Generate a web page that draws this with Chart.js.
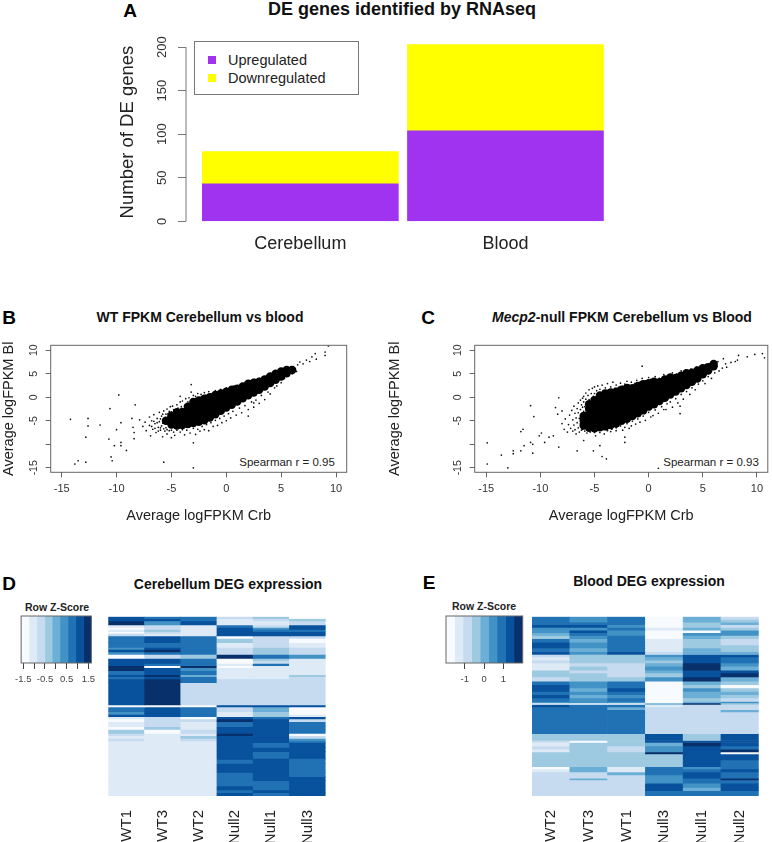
<!DOCTYPE html>
<html>
<head>
<meta charset="utf-8">
<script src="https://cdn.jsdelivr.net/npm/chart.js@4"></script>
<style>
body { margin: 0; background: #fff; width: 772px; height: 842px; overflow: hidden; position: relative; font-family: "Liberation Sans", Arial, sans-serif; color: #111; }
canvas { position: absolute; }
.t { position: absolute; white-space: nowrap; transform: translate(-50%, -50%); }
.b { font-weight: bold; font-size: 14px; }
.p { font-weight: bold; font-size: 19px; color: #000; }
.k { font-weight: bold; font-size: 10.5px; color: #222; }
.s { font-size: 11.5px; color: #222; }
#legend { position: absolute; left: 194px; top: 41px; width: 165px; height: 54px; border: 1px solid #777; box-sizing: border-box; background: #fff; z-index: 2; font-size: 14.5px; color: #222; }
#legend div { position: absolute; left: 33px; white-space: nowrap; }
#legend i { position: absolute; left: -20px; top: 4px; width: 8px; height: 8px; }
</style>
</head>
<body>
<div class="t p" style="left:130px;top:11px">A</div>
<div class="t" style="left:402px;top:9px;font-weight:bold;font-size:18px">DE genes identified by RNAseq</div>
<div id="legend"></div>
<div class="t p" style="left:9px;top:318px">B</div>
<div class="t b" style="left:200px;top:317px">WT FPKM Cerebellum vs blood</div>
<div class="t p" style="left:428px;top:318px">C</div>
<div class="t b" style="left:622px;top:317px"><i>Mecp2</i>-null FPKM Cerebellum vs Blood</div>
<div class="t p" style="left:9px;top:584px">D</div>
<div class="t b" style="left:228px;top:584px">Cerebellum DEG expression</div>
<div class="t p" style="left:429px;top:583px">E</div>
<div class="t b" style="left:649px;top:581px">Blood DEG expression</div>
<div class="t k" style="left:57px;top:607px">Row Z-Score</div>
<div class="t k" style="left:484px;top:606px">Row Z-Score</div>
<div class="t s" style="left:287px;top:462px">Spearman r = 0.95</div>
<div class="t s" style="left:711px;top:462px">Spearman r = 0.93</div>

<canvas id="barA" style="left:100px;top:30px"></canvas>
<canvas id="scatB" style="left:0;top:335px"></canvas>
<canvas id="scatC" style="left:386px;top:335px"></canvas>
<canvas id="keyD" style="left:10px;top:610px"></canvas>
<canvas id="heatD" style="left:100px;top:610px"></canvas>
<canvas id="keyE" style="left:436px;top:610px"></canvas>
<canvas id="heatE" style="left:524px;top:610px"></canvas>

<script>
// panel A
const tissues = ["Cerebellum", "Blood"];
const upregulated = [43, 104];
const downregulated = [37, 99];
const countTicks = [0, 50, 100, 150, 200];

// panels B, C: axis ticks
const logTicks = [-15, -10, -5, 0, 5, 10];

// panel B, WT: the solid middle of the cloud
const wtCore = [
  [-5.5,-5],[-5,-5.8],[-5,-4.8],[-5,-3.9],[-4.5,-6],[-4.5,-5],[-4.5,-4],[-4.5,-3.2],[-4,-5.9],[-4,-5],[-4,-4],[-4,-3.1],
  [-3.5,-5.7],[-3.5,-4.8],[-3.5,-3.8],[-3.5,-2.9],[-3.5,-2],[-3,-5.5],[-3,-4.6],[-3,-3.6],[-3,-2.7],[-3,-1.7],[-3,-1],
  [-2.5,-5.2],[-2.5,-4.3],[-2.5,-3.3],[-2.5,-2.4],[-2.5,-1.4],[-2.5,-0.7],[-2,-4.9],[-2,-4],[-2,-3],[-2,-2],[-2,-1.1],[-2,-0.3],
  [-1.5,-4.3],[-1.5,-3.4],[-1.5,-2.5],[-1.5,-1.6],[-1.5,-0.7],[-1.5,0],[-1,-3.6],[-1,-2.7],[-1,-1.8],[-1,-0.9],[-1,0],[-1,0.5],
  [-0.5,-2.9],[-0.5,-2],[-0.5,-1.1],[-0.5,-0.2],[-0.5,0.8],[0,-2.2],[0,-1.3],[0,-0.4],[0,0.5],[0,1.2],[0.5,-1.6],[0.5,-0.7],[0.5,0.2],[0.5,1.1],[0.5,1.6],
  [1,-0.9],[1,0],[1,0.9],[1,1.8],[1.5,-0.2],[1.5,0.7],[1.5,1.6],[1.5,2.3],[2,0.4],[2,1.3],[2,2.2],[2,2.9],[2.5,1],[2.5,1.9],[2.5,2.8],[2.5,3.1],
  [3,1.6],[3,2.5],[3,3.3],[3.5,2.3],[3.5,3.1],[3.5,3.8],[4,3],[4,3.7],[4,4.4],[4.5,3.7],[4.5,4.4],[4.5,5],[5,4.4],[5,5],[5,5.5],[5.5,5.1],[5.5,5.8],[6,5.8]
];
// panel B, WT: single genes around the middle and the far outliers
const wtSpread = [
  [-7.9,-4.8],[-7.6,-6.2],[-7.4,-5.3],[-7.3,-7.1],[-7,-4.2],[-7,-6],[-6.9,-8.2],[-6.8,-5],[-6.7,-6.8],[-6.6,-3.7],[-6.5,-5.6],[-6.4,-7.5],[-6.3,-4.5],[-6.2,-6.4],[-6.1,-3.2],[-6.1,-5.2],[-6,-7],[-5.9,-4],[-5.9,-6.1],[-5.8,-8.4],[-5.7,-2.9],[-5.7,-5],[-5.6,-7.2],[-5.5,-3.6],[-5.5,-6.5],[-5.4,-2.5],[-5.4,-7.8],[-5.3,-4.1],[-5.2,-3],[-5.2,-7.1],[-5.1,-2],[-5,-8.6],[-5,-3.1],[-5,-7],[-4.9,-1.9],[-4.8,-2.6],[-4.8,-7.4],[-4.7,-8.1],
  [-6.8,-6.2],[-6.6,-5.1],[-6.5,-6.6],[-6.3,-5.4],[-6.2,-7.2],[-6,-4.6],[-6,-6.5],[-5.8,-3.6],[-5.8,-5.5],[-5.7,-6.7],[-5.6,-4.4],[-5.5,-5.6],[-5.4,-6.9],[-5.3,-3.5],[-5.2,-4.9],[-5.1,-6.4],
  [-4.5,-1.6],[-4.4,-2.3],[-4.2,-1],[-4.1,-2],[-4,-0.8],[-3.8,-1.7],[-3.7,-0.3],[-3.5,-1],[-3.4,-0.1],[-3.2,1.1],[-3.1,-0.4],[-3,0.4],[-2.8,0.2],[-2.6,0.8],[-2.4,-0.1],[-2.3,0.6],[-2,1],[-1.9,0.4],[-1.6,1.2],[-1.4,0.7],[-1,1.4],[-0.8,1],[-0.5,1.7],[-0.3,1.3],[0,2],[0.3,1.9],[0.7,2.4],[1,2.5],[1.4,2.9],[1.8,3.2],[2.2,3.4],[2.6,3.8],[3,4],[3.3,4.3],[3.7,4.6],[4.2,5],[4.6,5.6],[5,6],[5.4,6.3],[5.9,6.5],
  [-4.5,-7],[-4.2,-7.4],[-4,-6.9],[-3.8,-8],[-3.6,-7],[-3.3,-7.6],[-3,-6.6],[-2.8,-7.9],[-2.6,-6.8],[-2.4,-7.2],[-2.2,-6.2],[-2,-6.9],[-1.8,-5.8],[-1.6,-7.1],[-1.4,-5.4],[-1.2,-6.2],[-1,-4.9],[-0.8,-6],[-0.6,-4.5],[-0.4,-5.4],[-0.2,-4],[0,-5],[0.2,-3.5],[0.4,-4.4],[0.6,-3],[0.9,-3.8],[1.2,-2.3],[1.4,-3.3],[1.7,-1.8],[2,-2.6],[2.3,-1],[2.5,-2.1],[2.7,-0.6],[3,-1.3],[3.2,0.4],[3.5,-0.5],[3.8,1.1],[4,0.7],[4.4,2],[4.6,2.4],[5,3.1],[5.3,4],[5.6,4.6],[6,5],[6.4,5.5],
  [-14.2,-4.7],[-12.6,-4.5],[-12.6,-6.1],[-11.5,-5.9],[-12.8,-8.5],[-13.8,-14.2],[-13.5,-13.5],[-12.8,-13.8],[-10.5,-12.7],[-10.4,-13.5],[-9.8,0.5],[-10.6,-2.4],[-9.6,-5.4],[-10,-6.9],[-8.3,-1.6],[-8.6,-4.5],[-8.5,-6.4],[-8.4,-7.5],[-8.4,-8.8],[-9.6,-9.6],[-9.6,-10.3],[-10.2,-10.3],[-9.1,-11.3],[-10.7,-8.9],[-5.7,-13.8],[-3,-15],[-3,-9.7],[-3.2,2.7],[-4.2,0.2],[2.5,-1.2],[2,-4],
  [6.1,6.5],[6.7,7.5],[7.3,7.9],[8.1,9.3],[9,9.6],[9.3,10.9],[8.2,8.1],[9,8.9],[7.8,8.6],[6.5,6.9],[7,7.1],[7.6,7.6]
];

// panel C, Mecp2-null: the solid middle of the cloud
const nullCore = [
  [-6,-6],[-6,-5],[-6,-4],[-5.5,-6.5],[-5.5,-5.5],[-5.5,-4.5],[-5.5,-3.5],[-5.5,-2.5],[-5.5,-1.5],[-5,-6.6],[-5,-5.6],[-5,-4.6],[-5,-3.6],[-5,-2.6],[-5,-1.6],[-5,-0.6],
  [-4.5,-6.4],[-4.5,-5.4],[-4.5,-4.4],[-4.5,-3.4],[-4.5,-2.4],[-4.5,-1.4],[-4.5,-0.4],[-4.5,0.4],[-4,-6.2],[-4,-5.2],[-4,-4.2],[-4,-3.2],[-4,-2.2],[-4,-1.2],[-4,-0.2],[-4,0.8],
  [-3.5,-5.9],[-3.5,-4.9],[-3.5,-3.9],[-3.5,-2.9],[-3.5,-1.9],[-3.5,-0.9],[-3.5,0.1],[-3.5,1],[-3,-5.6],[-3,-4.6],[-3,-3.6],[-3,-2.6],[-3,-1.6],[-3,-0.6],[-3,0.4],[-3,1.2],
  [-2.5,-5],[-2.5,-4],[-2.5,-3],[-2.5,-2],[-2.5,-1],[-2.5,0],[-2.5,1],[-2.5,1.6],[-2,-4.6],[-2,-3.6],[-2,-2.6],[-2,-1.6],[-2,-0.6],[-2,0.4],[-2,1.4],[-2,2],
  [-1.5,-4],[-1.5,-3],[-1.5,-2],[-1.5,-1],[-1.5,0],[-1.5,1],[-1.5,1.9],[-1,-3.4],[-1,-2.4],[-1,-1.4],[-1,-0.4],[-1,0.6],[-1,1.6],[-1,2.4],[-0.5,-2.8],[-0.5,-1.8],[-0.5,-0.8],[-0.5,0.2],[-0.5,1.2],[-0.5,2.2],[-0.5,2.8],
  [0,-2],[0,-1],[0,0],[0,1],[0,2],[0,3],[0.5,-1.5],[0.5,-0.5],[0.5,0.5],[0.5,1.5],[0.5,2.5],[0.5,3.3],[1,-0.8],[1,0.2],[1,1.2],[1,2.2],[1,3.2],[1.5,-0.1],[1.5,0.9],[1.5,1.9],[1.5,2.9],[1.5,3.8],
  [2,0.6],[2,1.6],[2,2.6],[2,3.6],[2,4.2],[2.5,1.2],[2.5,2.2],[2.5,3.2],[2.5,4.1],[3,1.9],[3,2.9],[3,3.9],[3,4.6],[3.5,2.6],[3.5,3.6],[3.5,4.5],[3.5,5.1],[4,3.3],[4,4.3],[4,5.2],[4.5,4],[4.5,5],[4.5,5.7],[5,4.9],[5,5.6],[5,6.2],[5.5,5.7],[5.5,6.4],[6,6.6],[6,7.1]
];
// panel C, Mecp2-null: single genes around the middle and the far outliers
const nullSpread = [
  [-8,-5.6],[-7.8,-6.8],[-7.7,-4.6],[-7.5,-7.4],[-7.4,-5.8],[-7.3,-3.8],[-7.2,-6.6],[-7.1,-2.8],[-7,-4.8],[-7,-7.2],[-6.9,-5.9],[-6.9,-1.9],[-6.8,-3.4],[-6.8,-6.9],[-6.7,-4.4],[-6.7,-7.8],[-6.6,-2.4],[-6.6,-5.4],[-6.5,-1.2],[-6.5,-3.3],[-6.5,-6.5],[-6.4,-4.5],[-6.4,-7.4],[-6.3,-2.6],[-6.3,-0.6],[-6.3,-5.6],[-6.2,-3.6],[-6.2,-1.6],[-6.2,-7],[-6.1,-2.1],[-6.1,-0.2],[-6.1,-6.8],
  [-6,-3],[-6,-1],[-6,0.2],[-5.9,-2],[-5.9,-7.2],[-5.8,-0.4],[-5.8,0.9],[-5.7,-1.1],[-5.7,-7.6],[-5.6,0.4],[-5.5,-0.5],[-5.5,1.6],[-5.4,-7.4],[-5.3,0.8],[-5.3,-0.9],[-5.2,1.9],[-5.1,0.2],[-5,2.2],[-5,0.8],[-5,-7.5],[-4.9,-8.2],[-4.8,1.4],[-4.7,2.4],[-4.6,0.9],[-4.5,1.7],[-4.5,-7.5],[-4.3,2.6],[-4.2,1.4],[-4.1,-7.8],[-4,2],[-3.8,2.9],[-3.7,1.6],[-3.5,2.2],[-3.5,-7.3],[-3.3,3.2],[-3.1,1.9],[-3,2.6],[-3,-7.1],[-2.8,2.1],[-2.6,3],[-2.4,2.3],[-2.2,2.8],[-2.2,-6.4],[-2,3.4],[-1.8,2.6],[-1.6,3.2],[-1.6,-6.1],[-1.3,2.9],[-1.1,3.6],[-0.8,3.2],[-0.6,4],[-0.3,3.5],[0,4.2],[0.2,3.8],[0.6,4.4],[1,4],[1.4,4.8],[1.8,4.6],[2.2,5.2],[2.6,5],[3,5.6],[3.4,5.7],[3.9,6],[4.4,6.4],[4.9,6.8],[5.3,7],[5.8,7.4],[6.4,7.6],
  [-3.8,-7.1],[-3.4,-6.8],[-3,-6.5],[-2.6,-6.1],[-2.4,-7],[-2,-5.6],[-1.8,-6.6],[-1.5,-5.1],[-1.2,-5.7],[-1,-4.6],[-0.8,-5.3],[-0.5,-4],[-0.3,-4.9],[0,-3.2],[0.2,-4.2],[0.4,-3.9],[0.6,-2.7],[0.9,-3.4],[1.2,-2],[1.4,-2.6],[1.7,-1.4],[2,-1],[2.2,-2.1],[2.5,-0.3],[2.7,-1.2],[3,0.6],[3.2,-0.4],[3.5,1.2],[3.8,0.6],[4,2],[4.3,1.6],[4.6,2.8],[5,3.5],[5.2,2.9],[5.5,4.4],[5.8,4],[6.1,5.2],[6.5,5.6],[6.8,6.2],[7.2,6.4],
  [-14.9,-9.7],[-14.9,-14.2],[-13.6,-12.3],[-13,-15],[-12.5,-11.4],[-12.5,-12],[-11.8,-11.4],[-11.8,-7.3],[-11.6,-6.8],[-10.9,-1.8],[-10.6,-4.1],[-10.9,-9.6],[-10.7,-10],[-10.7,-11.9],[-11.5,-10.3],[-9.9,-7.6],[-10.1,-8.2],[-9.6,-9.6],[-9.2,-8.5],[-8.8,-8.2],[-8.3,-10.6],[-8.3,-0.1],[-8.6,-2.2],[-8.4,-3.6],[-8,-2.9],[-6.6,-11.4],[-5.1,-11.4],[-4.3,-12.6],[-3.9,-13.1],[-4.5,-10.3],[-6,-9.2],[-2.2,-9.6],[-2.2,-8.5],[-0.6,6.6],[2.9,-1.9],[2.9,-3.5],[1.6,-2.6],[0.9,-15.1],
  [8.3,8.9],[9.1,8.6],[9.8,9.1],[10.5,9.3],[10.7,8.4],[8.2,7.9],[6.9,8.2],[7.6,7.4],[7.1,7.1],[8,7.6]
];

// panel D: one string per band of genes, one digit (colour key bin) per sample
const cerebSamples = ["WT1", "WT3", "WT2", "Null2", "Null1", "Null3"];
const cerebGenes = [6,7,12,7,6,7,5,8,7,13,14,6,8,7,12,7,8,7,6,9,12,6,7,11,67,6,14,8,7,7,8,15,8,12,7,8,8,5,14,13,20,3,12,20,7,13,12,16,12,8,10];
const cerebBins = ["766230","776123","857112","121627","021757","131766","021777","211777","676022","676320","666121","576232","786232","566232","023865","776031","776021","766161","808011","875111","676111","784113","676112","786222","782222","000777","676240","576130","776131","120767","022872","121676","031776","302776","211870","113772","212775","111776","111767","111777","111767","111776","111676","111776","111776","111676","111677","111667","111767","111677","111767"];

// panel E
const bloodSamples = ["WT2", "WT3", "WT1", "Null3", "Null1", "Null2"];
const bloodGenes = [8,8,8,8,8,8,8,10,10,8,9,11,9,7,10,8,10,12,8,12,13,10,10,10,10,10,10,5,4,8,8,7,65,20,6,10,10,8,6,18,20,7,9,9,10,5,10,12,10,16];
const bloodBins = ["656042","656043","666034","775032","556143","575005","465055","356043","646132","756132","756133","646143","757244","233577","133476","233376","122485","132584","322477","332378","233584","656043","756030","747053","656044","745043","656032","555045","000483","766122","664222","666224","666222","333737","203777","133487","232576","132578","333870","333377","333376","041656","141667","224676","222576","242568","222566","222757","222747","222666"];

// colour keys
const blues = ["#f7fbff","#deebf7","#c6dbef","#9ecae1","#6baed6","#4292c6","#2171b5","#08519c","#08306b"];
const keyEdgesD = [-1.6,-1.24,-0.875,-0.51,-0.167,0.19,0.56,0.92,1.28,1.64];
const keyTicksD = [-1.5,-1,-0.5,0,0.5,1,1.5];
const keyLabelsD = ["-1.5","","-0.5","","0.5","","1.5"];
const keyEdgesE = [-1.97,-1.52,-1.09,-0.64,-0.2,0.24,0.67,1.12,1.55,2];
const keyTicksE = [-1,0,1];
const keyLabelsE = ["-1","0","1"];

const purple = "#a033f0", yellow = "#ffff00";
const FONT = "'Liberation Sans', Arial, sans-serif";
Chart.defaults.font.family = FONT;
Chart.defaults.color = "#222";
Chart.defaults.animation = false;
Chart.defaults.responsive = false;
Chart.defaults.plugins.legend.display = false;
Chart.defaults.plugins.tooltip.enabled = false;

function size(id, w, h) {
  const c = document.getElementById(id);
  c.width = w; c.height = h;
  c.style.width = w + "px"; c.style.height = h + "px";
  return c;
}

// R style box round the plot
const frame = { id: "frame", afterDatasetsDraw(chart) {
  const a = chart.chartArea, ctx = chart.ctx;
  ctx.save();
  ctx.strokeStyle = "#666";
  ctx.lineWidth = 1;
  ctx.strokeRect(a.left, a.top, a.right - a.left, a.bottom - a.top);
  ctx.restore();
}};

// R style axis line that only spans first to last tick
const spanLine = { id: "spanLine", afterDraw(chart) {
  const s = chart.scales.y, ctx = chart.ctx;
  ctx.save();
  ctx.strokeStyle = "#777";
  ctx.lineWidth = 1;
  ctx.beginPath();
  ctx.moveTo(s.right, s.getPixelForValue(countTicks[0]));
  ctx.lineTo(s.right, s.getPixelForValue(countTicks[countTicks.length - 1]));
  ctx.stroke();
  ctx.restore();
}};

function fixedTicks(values) {
  return s => { s.ticks = values.map(v => ({ value: v })); };
}

// A
document.getElementById("legend").innerHTML =
  [["Upregulated", purple, 10], ["Downregulated", yellow, 28]]
    .map(l => `<div style="top:${l[2]}px"><i style="background:${l[1]}"></i>${l[0]}</div>`).join("");

new Chart(size("barA", 520, 240), {
  type: "bar",
  data: { datasets: [
    { label: "Upregulated", data: tissues.map((t, i) => ({ x: i, y: upregulated[i] })), backgroundColor: purple, barThickness: 196 },
    { label: "Downregulated", data: tissues.map((t, i) => ({ x: i, y: downregulated[i] })), backgroundColor: yellow, barThickness: 196 }
  ]},
  options: {
    layout: { padding: { top: 9.5, right: 12 } },
    scales: {
      x: { type: "linear", stacked: true, offset: false, min: -0.5576, max: 1.5,
        afterBuildTicks: fixedTicks([0, 1]),
        grid: { display: false, drawTicks: false }, border: { display: false },
        ticks: { padding: 12, font: { size: 18 }, maxRotation: 0, color: "#222", callback: v => tissues[v] },
        afterFit: s => { s.height = 48.7; } },
      y: { stacked: true, min: 0, max: 205,
        afterBuildTicks: fixedTicks(countTicks),
        grid: { drawOnChartArea: false, tickLength: 8, tickColor: "#777" }, border: { display: false },
        title: { display: true, text: "Number of DE genes", font: { size: 18.5 }, color: "#222", padding: { top: 17, bottom: 0 } },
        ticks: { minRotation: 90, maxRotation: 90, crossAlign: "center", padding: 5, font: { size: 13 }, color: "#333", autoSkip: false },
        afterFit: s => { s.width = 86; } }
    }
  },
  plugins: [spanLine]
});

// B, C
function scatter(id, width, padLeft, xMin, xMax, core, spread, yFontTop) {
  return new Chart(size(id, width, 190), {
    type: "scatter",
    data: { datasets: [
      { data: core.map(p => ({ x: p[0], y: p[1] })), backgroundColor: "#000", pointRadius: 4.2, pointBorderWidth: 0 },
      { data: spread.map(p => ({ x: p[0], y: p[1] })), backgroundColor: "#111", pointRadius: 0.85, pointBorderWidth: 0 }
    ]},
    options: {
      layout: { padding: { top: 8.3, right: padLeft, left: 0, bottom: 0 } },
      scales: {
        x: { min: xMin, max: xMax,
          afterBuildTicks: fixedTicks(logTicks),
          grid: { drawOnChartArea: false, tickLength: 5, tickColor: "#666" }, border: { display: false },
          title: { display: true, text: "Average logFPKM Crb", font: { size: 14.5 }, color: "#222", padding: { top: 5, bottom: 0 } },
          ticks: { padding: 5, font: { size: 11 }, color: "#333", maxRotation: 0, autoSkip: false },
          afterFit: s => { s.height = 52.7; } },
        y: { min: -15.96, max: 11.05,
          afterBuildTicks: fixedTicks(logTicks),
          grid: { drawOnChartArea: false, tickLength: 5, tickColor: "#666" }, border: { display: false },
          title: { display: true, text: "Average logFPKM Bl", font: { size: 14.5 }, color: "#222", padding: { top: 0, bottom: 0 } },
          ticks: { minRotation: 90, maxRotation: 90, crossAlign: "center", padding: 4, font: { size: 10.5 }, color: "#333", autoSkip: false,
            callback: v => v === -10 ? "" : String(v) },
          afterFit: s => { s.width = yFontTop; } }
      }
    },
    plugins: [frame]
  });
}
scatter("scatB", 360, 13.3, -16, 10.97, wtCore, wtSpread, 50.7);
scatter("scatC", 386, 1, -16.06, 11, nullCore, nullSpread, 88.7);

// D, E
function heat(id, x0, w, rightPad, samples, genes, bins) {
  const total = genes.reduce((a, b) => a + b, 0);
  return new Chart(size(id, w, 232), {
    type: "bar",
    data: { labels: samples, datasets: genes.map((g, i) => ({
      data: samples.map(() => g),
      backgroundColor: bins[i].split("").map(d => blues[+d]),
      barPercentage: 1, categoryPercentage: 1, borderWidth: 0
    })) },
    options: {
      layout: { padding: { top: 6.7, left: x0, right: rightPad } },
      scales: {
        x: { stacked: true, grid: { display: false, drawTicks: false }, border: { display: false },
          ticks: { minRotation: 90, maxRotation: 90, padding: 14, font: { size: 15 }, color: "#222", autoSkip: false },
          afterFit: s => { s.height = 46; } },
        y: { stacked: true, reverse: true, min: 0, max: total, display: false }
      }
    }
  });
}
heat("heatD", 8.3, 240, 6, cerebSamples, cerebGenes, cerebBins);
heat("heatE", 8, 248, 2, bloodSamples, bloodGenes, bloodBins);

// colour keys
function key(id, left, right, edges, ticks, labels, w) {
  return new Chart(size(id, w, 85), {
    type: "bar",
    data: { labels: ["key"], datasets: blues.map((c, i) => ({
      data: [[edges[i], edges[i + 1]]], backgroundColor: c, grouped: false,
      barPercentage: 1, categoryPercentage: 1, borderWidth: 0
    })) },
    options: {
      indexAxis: "y",
      layout: { padding: { top: 6, left: left, right: right } },
      scales: {
        x: { min: edges[0], max: edges[edges.length - 1],
          afterBuildTicks: fixedTicks(ticks),
          grid: { drawOnChartArea: false, tickLength: 6, tickColor: "#444" }, border: { display: false },
          ticks: { padding: 5, font: { size: 9.5 }, color: "#444", maxRotation: 0, autoSkip: false,
            callback: v => labels[ticks.indexOf(v)] },
          afterFit: s => { s.height = 32; } },
        y: { display: false }
      }
    },
    plugins: [frame]
  });
}
key("keyD", 10.7, 1.7, keyEdgesD, keyTicksD, keyLabelsD, 90);
key("keyE", 10, 1.3, keyEdgesE, keyTicksE, keyLabelsE, 88);
</script>
</body>
</html>
